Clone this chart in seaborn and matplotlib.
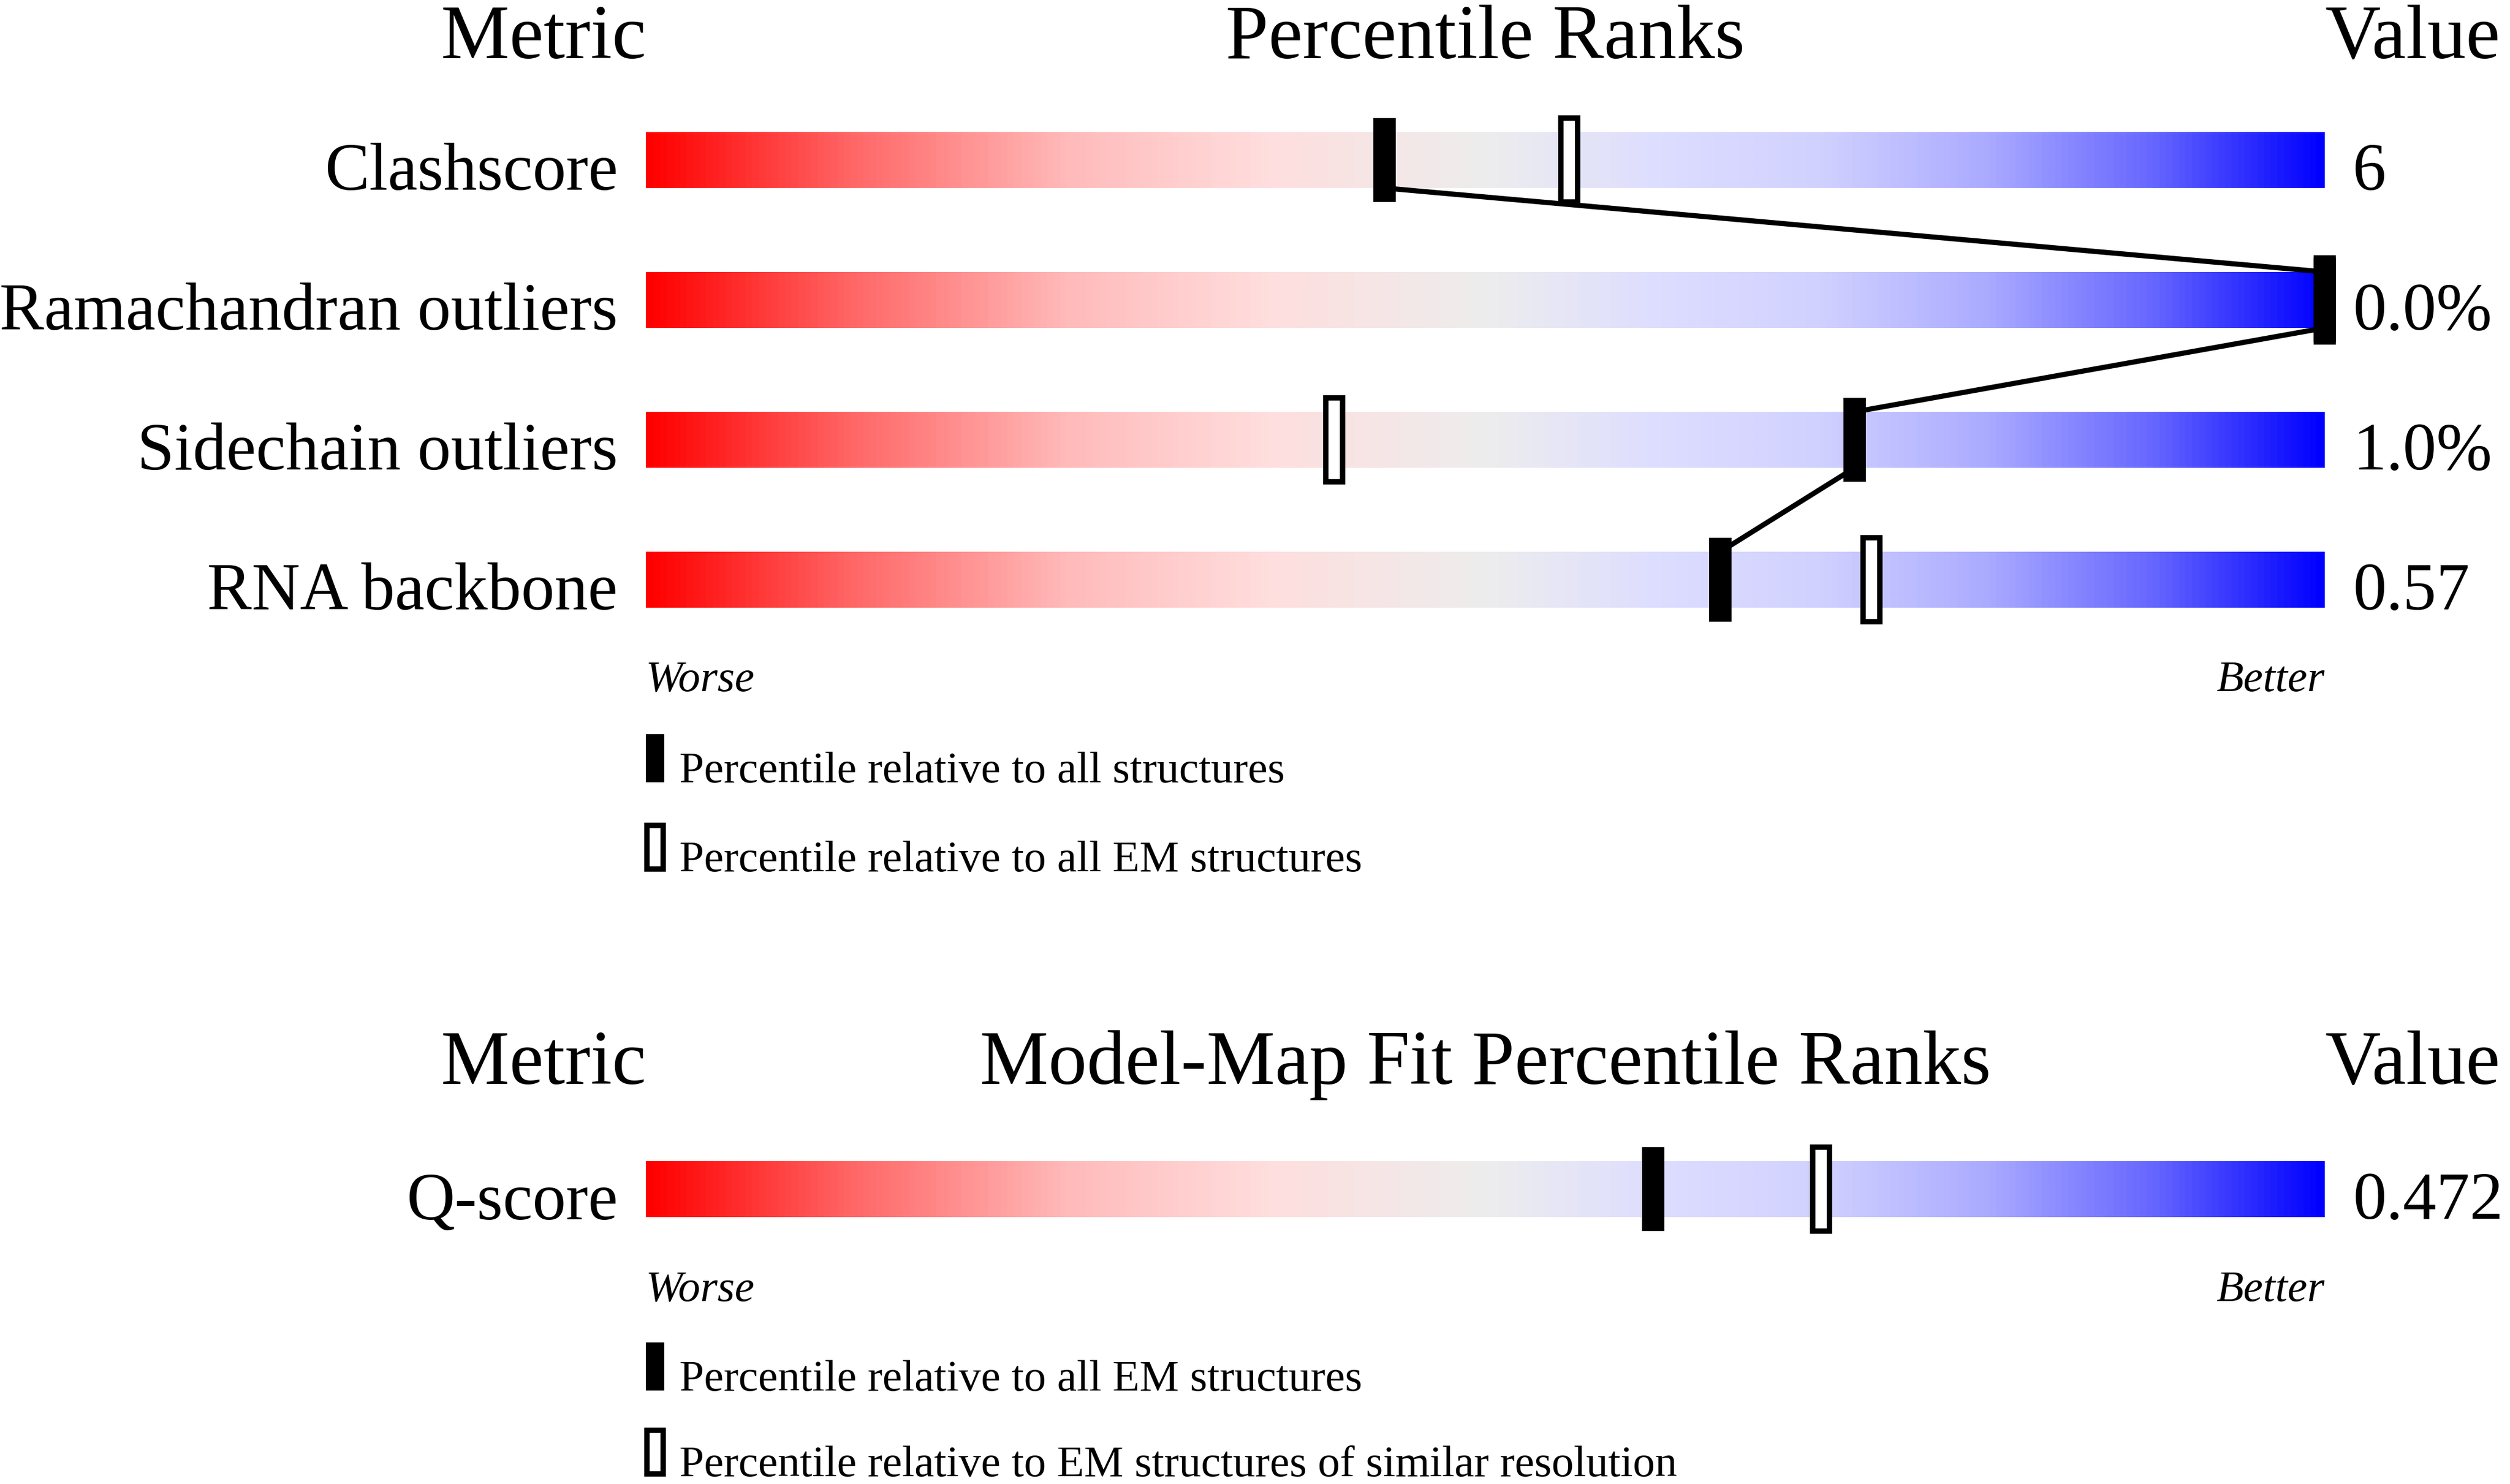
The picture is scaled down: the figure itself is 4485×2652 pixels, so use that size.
import numpy as np
import seaborn as sns
import matplotlib.pyplot as plt
from matplotlib.colors import LinearSegmentedColormap

sns.set_theme(style="white")
plt.rcParams['font.family'] = ['Liberation Serif', 'DejaVu Serif']
plt.rcParams['text.color'] = 'black'

# percentile sliders (validation report style)
metrics = ["Clashscore", "Ramachandran outliers", "Sidechain outliers", "RNA backbone"]
values = ["6", "0.0%", "1.0%", "0.57"]
pct_all = [44, 100, 72, 64]
pct_em = [55, 100, 41, 73]

fit_metrics = ["Q-score"]
fit_values = ["0.472"]
fit_pct_all = [60]
fit_pct_res = [70]

legend_top = ["Percentile relative to all structures", "Percentile relative to all EM structures"]
legend_fit = ["Percentile relative to all EM structures", "Percentile relative to EM structures of similar resolution"]

# gradient of the slider bar
grad_cmap = LinearSegmentedColormap.from_list("slider", [
    (0.00, (1.00, 0.00, 0.00)),
    (0.12, (1.00, 0.40, 0.40)),
    (0.25, (1.00, 0.73, 0.73)),
    (0.37, (1.00, 0.87, 0.87)),
    (0.50, (0.93, 0.93, 0.93)),
    (0.60, (0.87, 0.87, 1.00)),
    (0.70, (0.82, 0.82, 1.00)),
    (0.80, (0.67, 0.67, 1.00)),
    (0.90, (0.40, 0.40, 1.00)),
    (1.00, (0.00, 0.00, 1.00)),
])

W, H = 4485, 2652
DPI = 300
bar_x0, px_per_pct = 1154, 30.0
bar_h, mark_h = 100, 150
row_top, row_step = 286, 250
fit_row = 2125

fig = plt.figure(figsize=(W / DPI, H / DPI), dpi=DPI)
ax = fig.add_axes([0, 0, 1, 1])
ax.axis("off")

label_fs, title_fs, small_fs = 28.7, 33, 19
grad = np.linspace(0, 1, 512)[np.newaxis, :]


def draw_panel(rows_y, names, vals, p_all, p_other, title, title_y, wb_y, leg_y, leg_texts, connect):
    for y, name, val in zip(rows_y, names, vals):
        ax.imshow(grad, extent=(0, 100, y + bar_h / 2, y - bar_h / 2), aspect="auto",
                  cmap=grad_cmap, interpolation="bilinear", zorder=1)
        ax.text(-1.67, y + 53, name, ha="right", va="baseline", fontsize=label_fs)
        ax.text(101.67, y + 53, val, ha="left", va="baseline", fontsize=label_fs)

    ax.bar(p_other, mark_h, bottom=[y - mark_h / 2 for y in rows_y], width=1.0,
           color="white", edgecolor="black", linewidth=2.3, zorder=3)

    if connect and len(rows_y) > 1:
        lx, ly = [], []
        for i, (p, y) in enumerate(zip(p_all, rows_y)):
            if i > 0:
                lx.append(p); ly.append(y - bar_h / 2)
            if i < len(rows_y) - 1:
                lx.append(p); ly.append(y + bar_h / 2)
        sns.lineplot(x=lx, y=ly, sort=False, estimator=None, color="black",
                     linewidth=2.2, ax=ax, zorder=4)

    ax.bar(p_all, mark_h, bottom=[y - mark_h / 2 for y in rows_y], width=1.35,
           color="black", linewidth=0, zorder=5)

    ax.text(0, title_y, "Metric", ha="right", va="baseline", fontsize=title_fs)
    ax.text(50, title_y, title, ha="center", va="baseline", fontsize=title_fs)
    ax.text(100, title_y, "Value", ha="left", va="baseline", fontsize=title_fs)

    ax.text(0, wb_y, "Worse", ha="left", va="baseline", fontsize=small_fs, style="italic")
    ax.text(100, wb_y, "Better", ha="right", va="baseline", fontsize=small_fs, style="italic")

    # legend swatches
    ax.bar([0], [86], bottom=[leg_y[0] - 86], width=1.1, align="edge",
           color="black", linewidth=0, zorder=5)
    ax.bar([0.08], [78], bottom=[leg_y[1] - 82], width=0.95, align="edge",
           color="white", edgecolor="black", linewidth=2.3, zorder=5)
    for ly_, txt in zip(leg_y, leg_texts):
        ax.text(2.0, ly_, txt, ha="left", va="baseline", fontsize=small_fs)


rows = [row_top + i * row_step for i in range(len(metrics))]
draw_panel(rows, metrics, values, pct_all, pct_em, "Percentile Ranks", 104, 1235,
           [1398, 1557], legend_top, True)
draw_panel([fit_row], fit_metrics, fit_values, fit_pct_all, fit_pct_res,
           "Model-Map Fit Percentile Ranks", 1937, 2325, [2485, 2638], legend_fit, False)

ax.set_xlim(-bar_x0 / px_per_pct, (W - bar_x0) / px_per_pct)
ax.set_ylim(H, 0)

fig.savefig("out.png", dpi=DPI, facecolor="white")
